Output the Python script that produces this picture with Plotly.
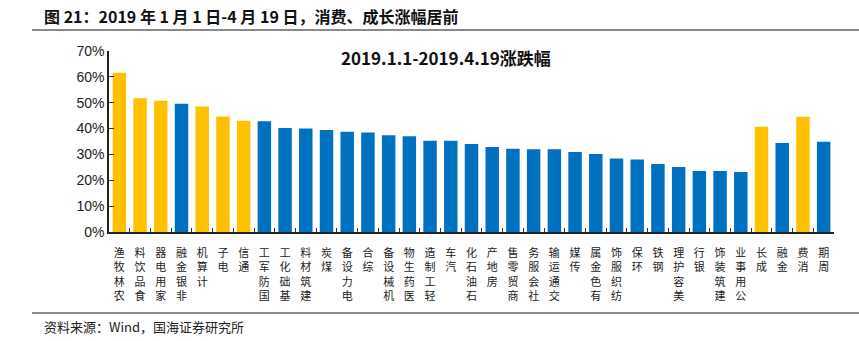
import plotly.graph_objects as go

categories = ["农林牧渔", "食品饮料", "家用电器", "非银金融", "计算机", "电子", "通信",
              "国防军工", "基础化工", "建筑材料", "煤炭", "电力设备", "综合", "机械设备",
              "医药生物", "轻工制造", "汽车", "石油石化", "房地产", "商贸零售", "社会服务",
              "交通运输", "传媒", "有色金属", "纺织服饰", "环保", "钢铁", "美容护理", "银行",
              "建筑装饰", "公用事业", "成长", "金融", "消费", "周期"]
values = [61.6, 51.7, 50.8, 49.6, 48.5, 44.7, 43.0,
          42.8, 40.2, 40.0, 39.4, 38.8, 38.5, 37.4,
          37.0, 35.3, 35.3, 34.0, 32.9, 32.2, 32.0,
          32.0, 30.9, 30.2, 28.4, 28.0, 26.3, 25.1, 23.6,
          23.6, 23.2, 40.7, 34.4, 44.6, 34.9]
highlight = ["农林牧渔", "食品饮料", "家用电器", "计算机", "电子", "通信", "成长", "消费"]
y_ticks = [0, 10, 20, 30, 40, 50, 60, 70]

ORANGE = "#FFC000"
BLUE = "#0070C0"
colors = [ORANGE if c in highlight else BLUE for c in categories]
ticktext = ["<br>".join(reversed(list(c))) for c in categories]

fig = go.Figure(go.Bar(
    x=categories, y=[v / 100 for v in values],
    marker=dict(color=colors, line=dict(width=0)),
    width=0.65,
))

W, H = 859, 341
L, R, T, B = 109, 25, 51, 109
pw, ph = W - L - R, H - T - B

def px(x):
    return (x - L) / pw

def py(y):
    return (H - B - y) / ph

cjk = "Noto Sans CJK SC"
fig.update_layout(
    width=W, height=H,
    margin=dict(l=L, r=R, t=T, b=B, autoexpand=False),
    paper_bgcolor="white", plot_bgcolor="white",
    showlegend=False,
    bargap=0.35,
    xaxis=dict(
        type="category", tickmode="array", tickvals=categories, ticktext=ticktext,
        tickangle=0, tickson="boundaries", ticks="inside", ticklen=4, tickcolor="#333",
        ticklabelstandoff=10,
        showline=True, linecolor="#222", linewidth=1.5, showgrid=False,
        tickfont=dict(family=cjk, size=11, color="#222"),
        range=[-0.5, len(categories) - 0.5],
    ),
    yaxis=dict(
        range=[0, 0.7], tickmode="array", tickvals=[t / 100 for t in y_ticks],
        ticktext=[f"{t}%" for t in y_ticks],
        ticks="inside", ticklen=5, tickcolor="#333",
        showline=True, linecolor="#222", linewidth=1.5, showgrid=False, zeroline=False,
        tickfont=dict(family="Liberation Sans, Arial", size=14, color="#222"),
    ),
    shapes=[
        dict(type="line", xref="paper", yref="paper", x0=px(32), x1=px(859), y0=py(30), y1=py(30),
             line=dict(color="#8a8a8a", width=2)),
        dict(type="line", xref="paper", yref="paper", x0=px(32), x1=px(859), y0=py(313), y1=py(313),
             line=dict(color="#8a8a8a", width=2)),
    ],
    annotations=[
        dict(text="<b>图 21：2019 年 1 月 1 日-4 月 19 日，消费、成长涨幅居前</b>",
             xref="paper", yref="paper", x=px(42), y=py(16), xanchor="left", yanchor="middle",
             showarrow=False, font=dict(family=cjk, size=16, color="#111")),
        dict(text="<b>2019.1.1-2019.4.19涨跌幅</b>",
             xref="paper", yref="paper", x=px(446), y=py(57), xanchor="center", yanchor="middle",
             showarrow=False, font=dict(family=cjk, size=17, color="#111")),
        dict(text="资料来源：Wind，国海证券研究所",
             xref="paper", yref="paper", x=px(42), y=py(326), xanchor="left", yanchor="middle",
             showarrow=False, font=dict(family=cjk, size=13, color="#222")),
    ],
)

fig.write_html("out.html")
